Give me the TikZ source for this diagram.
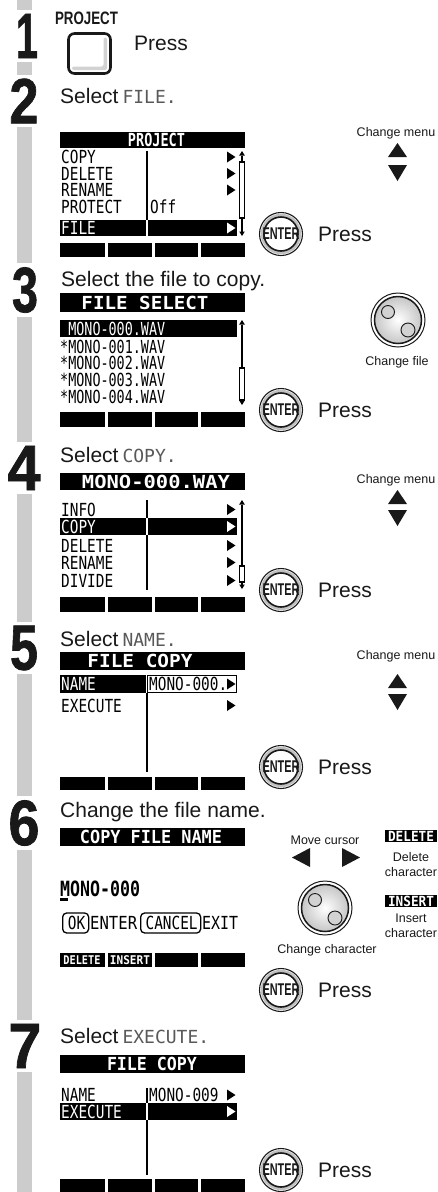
\documentclass[tikz,border=0pt]{standalone}
\usepackage{fontspec}
\usepackage{graphicx}
\setmainfont{Liberation Sans}
\newfontfamily\lcd[FakeStretch=0.8]{DejaVu Sans Mono}
\newfontfamily\lcdw{DejaVu Sans Mono}
\newfontfamily\numf[FakeBold=1.2]{Liberation Sans}
\definecolor{ink}{gray}{0.1}
\definecolor{barg}{gray}{0.8}
\definecolor{lcdg}{gray}{0.35}
\newcommand\fitw[2]{\resizebox{#1}{\height}{#2}}
\tikzset{
  lbl/.style={inner sep=0pt, text=ink, font=\fontsize{21pt}{24pt}\selectfont},
  small/.style={inner sep=0pt, text=ink, font=\fontsize{12.5pt}{15pt}\selectfont, align=center},
  num/.style={fill=white, inner sep=4pt, text=ink, font=\numf\bfseries\fontsize{64pt}{64pt}\selectfont},
  row/.style={anchor=west, inner sep=0pt, text=black, font=\lcd\fontsize{18pt}{18pt}\selectfont},
  rowhi/.style={row, text=white},
  hdr/.style={inner sep=0pt, text=white, font=\lcd\bfseries\fontsize{18pt}{18pt}\selectfont},
  entertxt/.style={inner sep=0pt, text=ink, font=\bfseries\fontsize{17pt}{17pt}\selectfont},
  badge/.style={fill=black, text=white, inner sep=0pt, minimum width=52pt, minimum height=12pt, font=\lcd\bfseries\fontsize{14pt}{14pt}\selectfont},
}
\newcommand\ScrHead[5]{%
  \fill[black] (60,#2) rectangle (245,#3);
  \node[hdr] (#1) at (#4,{(#2+#3)/2}) {#5};}
\newcommand\ScrFoot[2]{%
  \foreach \a/\b in {60/105,108/152,155/198,201/245}{\fill[black] (\a,#1) rectangle (\b,#2);}}
\newcommand\RowArr[2]{\fill[#2] (227,#1-5.5) -- (235.5,#1) -- (227,#1+5.5) -- cycle;}
\newcommand\Scroll[4]{%
  \fill[black] (242,#1) -- (244.8,#1+4.5) -- (239.2,#1+4.5) -- cycle;
  \fill[black] (242,#2) -- (244.8,#2-4.5) -- (239.2,#2-4.5) -- cycle;
  \draw[line width=1.2] (242,#1+4.5) -- (242,#2-4.5);
  \draw[line width=1.3, fill=white] (239.6,#3) rectangle (244.4,#4);}
\newcommand\EnterBtn[2]{%
  \draw[line width=1.1, ink] (281,#2) circle (21.5pt);
  \fill[gray!50, even odd rule] (281,#2) circle (20.2pt) (281,#2) circle (17pt);
  \draw[line width=1.6, ink] (281,#2) circle (17pt);
  \node[entertxt] (#1) at (281,#2) {\fitw{37pt}{ENTER}};}
\newcommand\Dial[3]{%
  \draw[line width=1, ink] (#2,#3) circle (27pt);
  \shade[inner color=white, outer color=gray!45] (#2,#3) circle (23.5pt);
  \draw[line width=1.5, ink] (#2,#3) circle (23.5pt);
  \draw[line width=0.9, ink, fill=gray!35] (#2-10,#3-8) circle (6.5pt);
  \draw[line width=0.9, ink, fill=gray!35] (#2+10,#3+10) circle (7pt);
  \coordinate (#1) at (#2,#3);}
\newcommand\UpDown[2]{%
  \fill[ink] (388,#1+14) -- (407,#1+14) -- (397.5,#1) -- cycle;
  \fill[ink] (388,#2) -- (407,#2) -- (397.5,#2+16) -- cycle;}
\begin{document}
\begin{tikzpicture}[x=1pt,y=-1pt]
\useasboundingbox (0,0) rectangle (438,1192);
\fill[white] (0,0) rectangle (438,1192);
\fill[barg] (17,0) rectangle (32,1192);
% step numbers
\node[num] (n1) at (27,36) {\fitw{22pt}{1}};
\node[num] (n2) at (24,101) {\fitw{29pt}{2}};
\node[num] (n3) at (25,290) {\fitw{26pt}{3}};
\node[num] (n4) at (24,468) {\fitw{33pt}{4}};
\node[num] (n5) at (24,648) {\fitw{28pt}{5}};
\node[num] (n6) at (24,823) {\fitw{31pt}{6}};
\node[num] (n7) at (25,1046) {\fitw{33pt}{7}};
% step 1
\node[inner sep=0pt, text=ink, font=\bfseries\fontsize{18pt}{18pt}\selectfont] (projlbl) at (86.5,18.5) {\fitw{63pt}{PROJECT}};
\draw[line width=2.6, ink, rounded corners=6pt, fill=white] (68.5,33.5) rectangle (110.5,73.5);
\fill[gray!35, rounded corners=2pt] (103.5,37.5) -- (107,37.5) -- (107,70) -- (72,70) -- (72,66.5) -- (103.5,66.5) -- cycle;
\coordinate (projbtn) at (89.5,53.5);
\node[lbl, anchor=base west] (p1) at (134,50) {Press};
% step 2
\node[lbl, anchor=base west] (t2) at (60,103) {Select\hspace{4pt}{\lcdw\fontsize{18pt}{18pt}\selectfont\color{lcdg}FILE.}};
\ScrHead{h2}{132}{148}{156.5}{\fitw{57pt}{PROJECT}}
\fill[black] (60,220) rectangle (237,236);
\draw[line width=1.2] (147,151) -- (147,220);
\draw[line width=1.2, white] (147,220) -- (147,236);
\node[row] (r2a) at (61,157) {COPY};
\node[row] (r2b) at (61,173.5) {DELETE};
\node[row] (r2c) at (61,190) {RENAME};
\node[row] (r2d) at (61,206.5) {PROTECT};
\node[row] (r2e) at (150,206.5) {Off};
\node[rowhi] (r2f) at (61,228) {FILE};
\RowArr{157}{black}\RowArr{173.5}{black}\RowArr{190}{black}\RowArr{228}{white}
\Scroll{151}{236}{162}{218}
\ScrFoot{243}{257}
\node[small] (cm2) at (396,133) {Change menu};
\UpDown{143}{165}
\EnterBtn{e2}{234}
\node[lbl, anchor=base west] (p2) at (318,241.5) {Press};
% step 3
\node[lbl, anchor=base west] (t3) at (61,286) {Select the file to copy.};
\ScrHead{h3}{293}{312}{145}{\fitw{127pt}{FILE SELECT}}
\fill[black] (60,320) rectangle (237,337);
\node[rowhi] (r3a) at (60,328.5) {\fitw{105pt}{\ MONO-000.WAV}};
\node[row] (r3b) at (60,346.5) {\fitw{105pt}{*MONO-001.WAV}};
\node[row] (r3c) at (60,363) {\fitw{105pt}{*MONO-002.WAV}};
\node[row] (r3d) at (60,380) {\fitw{105pt}{*MONO-003.WAV}};
\node[row] (r3e) at (60,397) {\fitw{105pt}{*MONO-004.WAV}};
\Scroll{320}{405}{368}{400}
\ScrFoot{412}{427}
\Dial{d3}{398}{320}
\node[small] (cf3) at (397,362) {Change file};
\EnterBtn{e3}{410}
\node[lbl, anchor=base west] (p3) at (318,417.5) {Press};
% step 4
\node[lbl, anchor=base west] (t4) at (60,462) {Select\hspace{4pt}{\lcdw\fontsize{18pt}{18pt}\selectfont\color{lcdg}COPY.}};
\ScrHead{h4}{473}{490}{156}{\fitw{148pt}{MONO-000.WAY}}
\fill[black] (60,518) rectangle (237,535);
\draw[line width=1.2] (147,500) -- (147,590);
\draw[line width=1.2, white] (147,518) -- (147,535);
\node[row] (r4a) at (61,509.5) {INFO};
\node[rowhi] (r4b) at (61,526.5) {COPY};
\node[row] (r4c) at (61,545.5) {DELETE};
\node[row] (r4d) at (61,562.5) {RENAME};
\node[row] (r4e) at (61,580.5) {DIVIDE};
\RowArr{509.5}{black}\RowArr{526.5}{white}\RowArr{545.5}{black}\RowArr{562.5}{black}\RowArr{580.5}{black}
\Scroll{500}{589}{566}{582}
\ScrFoot{597}{612}
\node[small] (cm4) at (396,480) {Change menu};
\UpDown{490}{510}
\EnterBtn{e4}{590}
\node[lbl, anchor=base west] (p4) at (318,597.5) {Press};
% step 5
\node[lbl, anchor=base west] (t5) at (60,646) {Select\hspace{4pt}{\lcdw\fontsize{18pt}{18pt}\selectfont\color{lcdg}NAME.}};
\ScrHead{h5}{652}{670}{140}{\fitw{105pt}{FILE COPY}}
\fill[black] (60,675) rectangle (146.4,693);
\draw[line width=1.4] (147.6,675.7) rectangle (236.3,692.3);
\draw[line width=1.2] (147,693) -- (147,772);
\node[rowhi] (r5a) at (61,684) {NAME};
\node[row] (r5b) at (149,684) {MONO-000.};
\node[row] (r5c) at (61,705.5) {EXECUTE};
\RowArr{684}{black}\RowArr{705.5}{black}
\ScrFoot{777}{790}
\node[small] (cm5) at (396,656) {Change menu};
\UpDown{674}{694}
\EnterBtn{e5}{767}
\node[lbl, anchor=base west] (p5) at (318,774.5) {Press};
% step 6
\node[lbl, anchor=base west] (t6) at (60,817) {Change the file name.};
\ScrHead{h6}{828}{846}{151}{\fitw{142pt}{COPY FILE NAME}}
\node[row, font=\lcd\bfseries\fontsize{21pt}{21pt}\selectfont] (r6a) at (60,888.5) {\fitw{80pt}{MONO-000}};
\fill[black] (60,898) rectangle (68,901);
\node[row, draw, line width=1.3, rounded corners=4pt, minimum width=26pt, minimum height=20pt, inner sep=1pt] (okb) at (62,923) {\hspace{2pt}OK};
\node[row] (ent6) at (90,923) {\fitw{47pt}{ENTER}};
\node[row, draw, line width=1.3, rounded corners=4pt, minimum width=60pt, minimum height=20pt, inner sep=1pt] (canb) at (140,923) {\hspace{2pt}\fitw{52pt}{CANCEL}};
\node[row] (ex6) at (202,923) {\fitw{36pt}{EXIT}};
\ScrFoot{953}{967}
\node[inner sep=0pt, text=white, font=\lcd\bfseries\fontsize{12pt}{12pt}\selectfont] (fd6) at (82,960) {\fitw{37pt}{DELETE}};
\node[inner sep=0pt, text=white, font=\lcd\bfseries\fontsize{12pt}{12pt}\selectfont] (fi6) at (130,960) {\fitw{40pt}{INSERT}};
\node[small] (mc6) at (325,840) {Move cursor};
\fill[ink] (310,848) -- (310,867) -- (292,857.5) -- cycle;
\fill[ink] (342,848) -- (342,867) -- (360,857.5) -- cycle;
\node[badge] (bd6) at (411,836) {\fitw{46pt}{DELETE}};
\node[small] (dc6) at (411,864.5) {Delete\\character};
\node[badge] (bi6) at (411,901) {\fitw{46pt}{INSERT}};
\node[small] (ic6) at (411,926) {Insert\\character};
\Dial{d6}{325}{908}
\node[small] (cc6) at (327,950) {Change character};
\EnterBtn{e6}{990}
\node[lbl, anchor=base west] (p6) at (318,997.5) {Press};
% step 7
\node[lbl, anchor=base west] (t7) at (60,1043) {Select\hspace{4pt}{\lcdw\fontsize{18pt}{18pt}\selectfont\color{lcdg}EXECUTE.}};
\ScrHead{h7}{1055}{1073}{152}{\fitw{90pt}{FILE COPY}}
\fill[black] (60,1103) rectangle (237,1120);
\draw[line width=1.2] (147,1088) -- (147,1175);
\draw[line width=1.2, white] (147,1103) -- (147,1120);
\node[row] (r7a) at (61,1095) {NAME};
\node[row] (r7b) at (149,1095) {MONO-009};
\node[rowhi] (r7c) at (61,1111.5) {EXECUTE};
\RowArr{1095}{black}\RowArr{1111.5}{white}
\ScrFoot{1179}{1192}
\EnterBtn{e7}{1170}
\node[lbl, anchor=base west] (p7) at (318,1177.5) {Press};
\end{tikzpicture}
\end{document}
